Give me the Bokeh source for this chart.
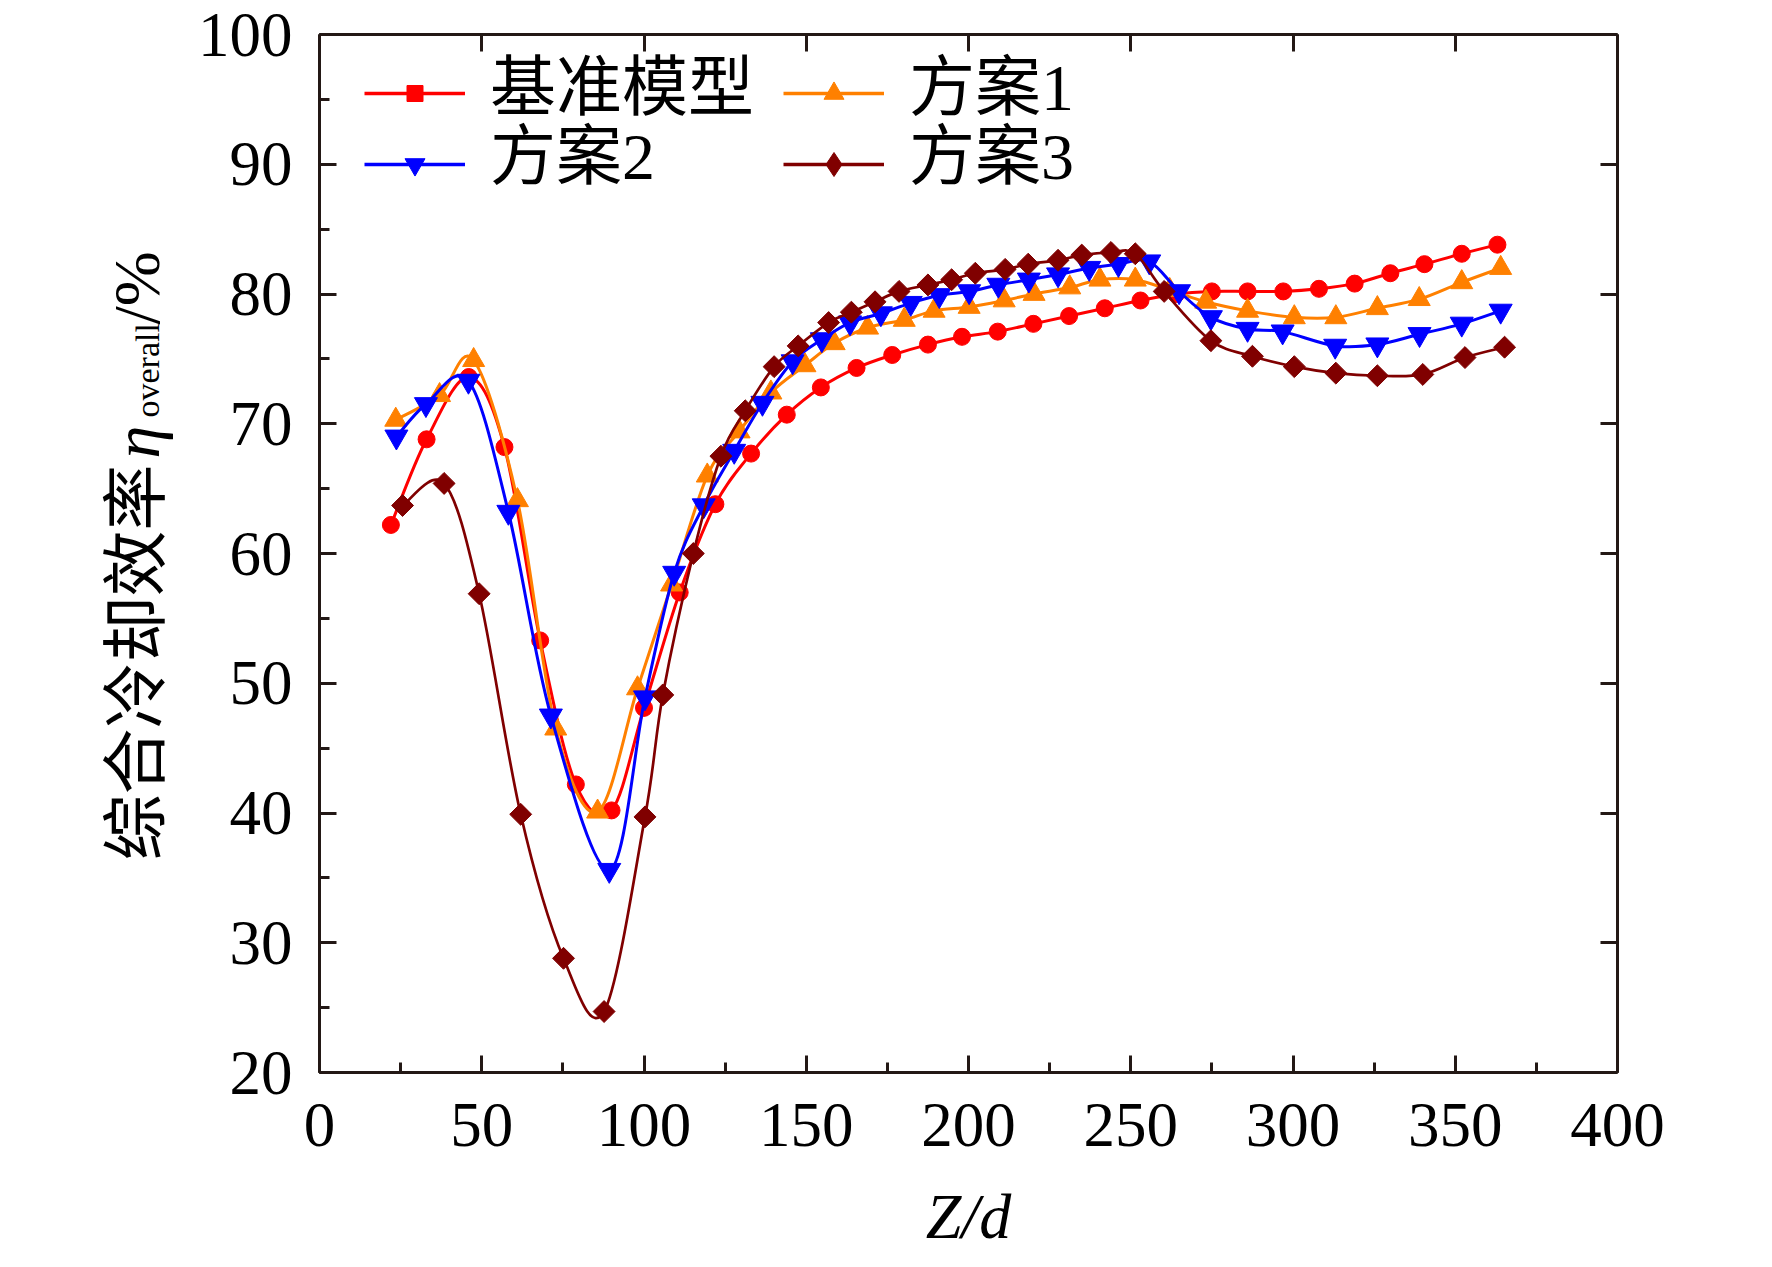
import numpy as np
from bokeh.plotting import figure
from bokeh.layouts import row
from bokeh.core.properties import value
from bokeh.models import (Range1d, LinearAxis, SingleIntervalTicker, Legend,
                          LegendItem, CustomJSTickFormatter)
from bokeh.embed import file_html
from bokeh.resources import INLINE

# values
base_x = [22, 33, 46, 57, 68, 79, 90, 100, 111, 122, 133, 144, 154.5, 165.5, 176.5, 187.5,
          198, 209, 220, 231, 242, 253, 264, 275, 286, 297, 308, 319, 330, 340.5, 352, 363]
base_y = [62.2, 68.8, 73.6, 68.2, 53.3, 42.2, 40.2, 48.1, 57.0, 63.8, 67.7, 70.7, 72.8, 74.3,
          75.3, 76.1, 76.7, 77.1, 77.7, 78.3, 78.9, 79.5, 80.0, 80.2, 80.2, 80.2, 80.4, 80.8,
          81.6, 82.3, 83.1, 83.8]

s1_x = [23.5, 37, 47.5, 61, 72.8, 85.7, 98, 108.5, 119.5, 129.3, 139.1, 149.6, 158.6, 168.9,
        180.2, 189.4, 200.2, 211, 220.2, 231.2, 240.5, 251.4, 262, 273.1, 286, 300.4, 313.2,
        326, 338.9, 352, 364]
s1_y = [70.3, 72.2, 74.9, 64.1, 46.5, 40.1, 49.6, 57.6, 66.0, 69.4, 72.4, 74.5, 76.2, 77.4,
        78.0, 78.7, 79.0, 79.5, 80.0, 80.5, 81.1, 81.1, 80.3, 79.4, 78.7, 78.2, 78.2, 78.9,
        79.6, 80.9, 82.0]

s2_x = [23.7, 32.8, 45.9, 58.2, 71.3, 89.3, 100.3, 109.3, 118.4, 127.8, 136.5, 145.8, 154.8,
        163.5, 173, 182.2, 191, 200.2, 209.2, 218.6, 227.6, 237.2, 246.2, 255.7, 264.9, 274.7,
        286, 296.8, 313, 326, 339, 352, 364]
s2_y = [69.0, 71.5, 73.3, 63.2, 47.5, 35.6, 48.9, 58.5, 63.7, 67.9, 71.6, 74.8, 76.5, 77.8,
        78.5, 79.3, 79.9, 80.2, 80.7, 81.1, 81.5, 82.0, 82.3, 82.5, 80.2, 78.2, 77.3, 77.1,
        76.0, 76.1, 76.9, 77.7, 78.7]

s3_x = [25.6, 38.4, 49.2, 62, 75.2, 87.7, 100.3, 105.8, 115.2, 123.7, 131.2, 140.1, 147.5,
        156.9, 163.9, 171.2, 178.6, 187.5, 194.8, 202.1, 211.3, 218.4, 227.6, 234.9, 243.9,
        251.4, 260.3, 274.7, 287.5, 300.4, 313.2, 326, 340, 353, 365.2]
s3_y = [63.7, 65.4, 56.9, 39.9, 28.8, 24.7, 39.7, 49.1, 60.0, 67.5, 71.0, 74.4, 76.0, 77.8,
        78.6, 79.4, 80.2, 80.7, 81.1, 81.6, 81.9, 82.3, 82.6, 83.0, 83.2, 83.1, 80.2, 76.4,
        75.2, 74.4, 73.9, 73.7, 73.8, 75.1, 75.9]

labels = ["基准模型", "方案1", "方案2", "方案3"]

SERIF = "Liberation Serif, Noto Sans CJK SC"
AXIS = "#231815"
LW = 180                # width of the strip holding the y title
TOP, BOTTOM = 34, 179
FW, FH = 1298, 1038     # frame size
FRAME_BOTTOM = 1080     # page y of the frame's bottom edge


def smooth(xs, ys):
    # Catmull-Rom curve through the points, as cubic Bezier segments
    x = np.asarray(xs, float)
    y = np.asarray(ys, float)
    n = len(x)
    xp = np.concatenate([[x[0]], x, [x[-1]]])
    yp = np.concatenate([[y[0]], y, [y[-1]]])
    return dict(
        x0=x[:-1], y0=y[:-1], x1=x[1:], y1=y[1:],
        cx0=xp[1:n] + (xp[2:n + 1] - xp[0:n - 1]) / 6,
        cy0=yp[1:n] + (yp[2:n + 1] - yp[0:n - 1]) / 6,
        cx1=xp[2:n + 1] - (xp[3:n + 2] - xp[1:n]) / 6,
        cy1=yp[2:n + 1] - (yp[3:n + 2] - yp[1:n]) / 6,
    )


p = figure(frame_width=FW, frame_height=FH, x_range=Range1d(0, 400),
           y_range=Range1d(20, 100), x_axis_type=None, y_axis_type=None,
           output_backend="svg", toolbar_location=None,
           min_border_left=319 - LW, min_border_right=139, min_border_top=TOP,
           min_border_bottom=BOTTOM)
p.outline_line_color = None


def make_axis(interval, minor, labelled):
    ax = LinearAxis(ticker=SingleIntervalTicker(interval=interval, num_minor_ticks=minor))
    ax.axis_line_color = AXIS
    ax.axis_line_width = 3
    ax.major_tick_line_color = AXIS
    ax.major_tick_line_width = 3
    ax.minor_tick_line_color = AXIS
    ax.minor_tick_line_width = 3
    ax.major_tick_in = 17
    ax.major_tick_out = 0
    ax.minor_tick_in = 10 if minor > 1 else 0
    ax.minor_tick_out = 0
    if labelled:
        ax.major_label_text_font = "Liberation Serif"
        ax.major_label_text_font_size = "63px"
        ax.major_label_text_color = "black"
    else:
        ax.formatter = CustomJSTickFormatter(code="return ''")
        ax.major_label_text_font_size = "0px"
        ax.major_label_standoff = 0
    return ax


bottom = make_axis(50, 2, True)
bottom.major_label_standoff = 31
bottom.axis_label = "Z/d"
bottom.axis_label_text_font = "Liberation Serif"
bottom.axis_label_text_font_style = "italic"
bottom.axis_label_text_font_size = "64px"
bottom.axis_label_text_color = "black"
bottom.axis_label_standoff = 32
left = make_axis(10, 2, True)
left.major_label_standoff = 27
p.add_layout(bottom, "below")
p.add_layout(left, "left")
p.add_layout(make_axis(50, 1, False), "above")
p.add_layout(make_axis(10, 1, False), "right")

series = [
    (base_x, base_y, "#FF0000", "circle", 17, 0.0, 3),
    (s1_x, s1_y, "#FF8000", "triangle", 22, 0.0, 3),
    (s2_x, s2_y, "#0000FF", "inverted_triangle", 23, 0.0, 3),
    (s3_x, s3_y, "#800000", "square", 15.5, np.pi / 4, 2.7),
]
for xs, ys, color, marker, size, angle, lw in series:
    p.bezier(source=smooth(xs, ys), x0="x0", y0="y0", x1="x1", y1="y1",
             cx0="cx0", cy0="cy0", cx1="cx1", cy1="cy1",
             line_color=color, line_width=lw)
    p.scatter(xs, ys, marker=marker, size=size, angle=angle,
              fill_color=color, line_color=color)

# legend: hidden renderers, drawn only inside the legend boxes.
# the sample glyph and the text are separate legends so that the marker size
# (which bokeh takes from the glyph box) and the CJK line height stay independent
legend_marks = [("#FF0000", "square", 40), ("#FF8000", "triangle", 50),
                ("#0000FF", "inverted_triangle", 50), ("#800000", "diamond", 60)]
# (glyph x from frame left, glyph row centre page y, text x, text row centre page y)
legend_pos = [(45, 101, 171, 89), (464, 101, 590, 89),
              (45, 172, 171, 158), (464, 172, 590, 158)]
TEXT_BOX = 100


def bare_legend(item, x, y):
    lg = Legend(items=[item], location=(x, y), orientation="vertical")
    lg.padding = 0
    lg.margin = 0
    lg.spacing = 0
    lg.border_line_color = None
    lg.background_fill_alpha = 0
    lg.inactive_fill_alpha = 0
    lg.label_text_font = SERIF
    lg.label_text_color = "black"
    return lg


for (xs, ys, *_), (color, marker, gh), name, (gx, gc, tx, tc) in zip(
        series, legend_marks, labels, legend_pos):
    ln = p.line(xs, ys, line_color=color, line_width=3.5, visible=False)
    sc = p.scatter(xs, ys, marker=marker, fill_color=color, line_color=color,
                   visible=False)
    g = bare_legend(LegendItem(label=value(""), renderers=[ln, sc]), gx,
                    FRAME_BOTTOM - (gc + gh / 2))
    g.glyph_width = 101
    g.glyph_height = gh
    g.label_height = 0
    g.label_standoff = 0
    g.label_text_font_size = "10px"
    p.add_layout(g)
    t = bare_legend(LegendItem(label=name, renderers=[ln, sc]), tx,
                    FRAME_BOTTOM - (tc + TEXT_BOX / 2))
    t.glyph_width = 0
    t.glyph_height = TEXT_BOX
    t.label_height = TEXT_BOX
    t.label_standoff = 0
    t.label_text_font_size = "66px"
    p.add_layout(t)

# narrow strip on the left carrying the rotated y title
# (pixel coordinates measured up from the bottom of the shared frame)
lab = figure(width=LW, frame_height=FH, x_range=Range1d(0, LW), y_range=Range1d(0, FH),
             x_axis_type=None, y_axis_type=None, output_backend="svg",
             toolbar_location=None, min_border_left=0, min_border_right=0,
             min_border_top=TOP, min_border_bottom=BOTTOM)
lab.outline_line_color = None
ytitle = [("综合冷却效率", 136, 212, "66px", "normal"),
          ("η", 136, 614, "66px", "italic"),
          ("overall", 147, 655, "34px", "normal"),
          ("/%", 136, 748, "66px", "normal")]
for txt, xx, yy, fs, style in ytitle:
    lab.text(x=[xx], y=[yy], text=[txt], angle=np.pi / 2, text_font=value(SERIF),
             text_font_style=style, text_font_size=fs, text_color="black",
             text_align="left", text_baseline="alphabetic")

open("out.html", "w").write(file_html(row(lab, p), INLINE))
